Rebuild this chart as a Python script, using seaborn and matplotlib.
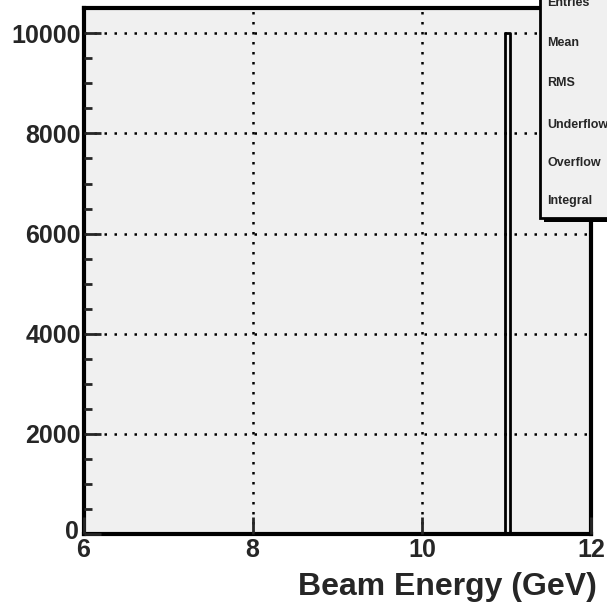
import numpy as np
import pandas as pd
import matplotlib
matplotlib.use("Agg")
import matplotlib.pyplot as plt
import matplotlib.transforms as mtransforms
import seaborn as sns
from matplotlib.patches import Rectangle

# histogram content: 10000 events all at the nominal beam energy
beam_energy = [11.0]
counts = [10000]
x_ticks = [6, 8, 10, 12]
y_ticks = [0, 2000, 4000, 6000, 8000, 10000]
stat_labels = ["Entries", "Mean", "RMS", "Underflow", "Overflow", "Integral"]

df = pd.DataFrame({"energy": beam_energy, "n": counts})

sns.set_style("white")
plt.rcParams["font.family"] = ["Liberation Sans", "DejaVu Sans"]
plt.rcParams["font.weight"] = "bold"

fig = plt.figure(figsize=(6.07, 6.05), dpi=100)
ax = fig.add_axes([0.1376, 0.1174, 0.9736 - 0.1376, 0.9863 - 0.1174])
ax.set_facecolor("#f0f0f0")

sns.histplot(data=df, x="energy", weights="n", binwidth=0.06, binrange=(6, 12),
             element="step", fill=False, color="black", linewidth=2, ax=ax)

ax.set_xlim(6, 12)
ax.set_ylim(0, 10500)
ax.set_xticks(x_ticks)
ax.set_yticks(y_ticks)
ax.set_yticks(np.arange(0, 10500, 500), minor=True)
ax.set_xticklabels([str(t) for t in x_ticks], fontsize=18, fontweight="bold")
ax.set_yticklabels([str(t) for t in y_ticks], fontsize=18, fontweight="bold")
ax.tick_params(axis="both", which="major", direction="in", length=12, width=2)
ax.tick_params(axis="y", which="minor", direction="in", length=6, width=2, left=True)
ax.tick_params(axis="x", which="major", bottom=True, pad=3)
ax.tick_params(axis="y", which="major", left=True, pad=2)

# ROOT puts the "0" slightly above the corner and the "6" below it
zero_lab = ax.get_yticklabels()[0]
zero_lab.set_transform(zero_lab.get_transform() +
                       mtransforms.ScaledTranslation(-2 / 100, 4 / 100, fig.dpi_scale_trans))

ax.grid(True, which="major", color="black", linestyle=(0, (1, 3)), linewidth=1.8)
ax.set_axisbelow(False)
for s in ax.spines.values():
    s.set_linewidth(3)
    s.set_color("black")

ax.set_ylabel("")
ax.set_xlabel("")
fig.text(597 / 607, 1 - 595 / 605, "Beam Energy (GeV)", fontsize=23,
         fontweight="bold", ha="right", va="baseline")

# stats box (partly off the canvas, like the ROOT original)
W, H = 607, 605
bx0, by0 = 540 / W, (H - 218) / H
shadow = Rectangle((bx0 + 4 / W, by0 - 4 / H), 0.2, 0.5, transform=fig.transFigure,
                   facecolor="black", edgecolor="none", zorder=5)
box = Rectangle((bx0, by0), 0.2, 0.5, transform=fig.transFigure,
                facecolor="#f0f0f0", edgecolor="black", linewidth=2, zorder=6)
fig.patches.extend([shadow, box])
label_y = [3, 43, 83, 125, 163, 201]
for lab, yp in zip(stat_labels, label_y):
    fig.text(547 / W, 1 - yp / H, lab, fontsize=9, fontweight="bold",
             va="center", ha="left", zorder=7)

fig.savefig("out.png", dpi=100, facecolor="white")
